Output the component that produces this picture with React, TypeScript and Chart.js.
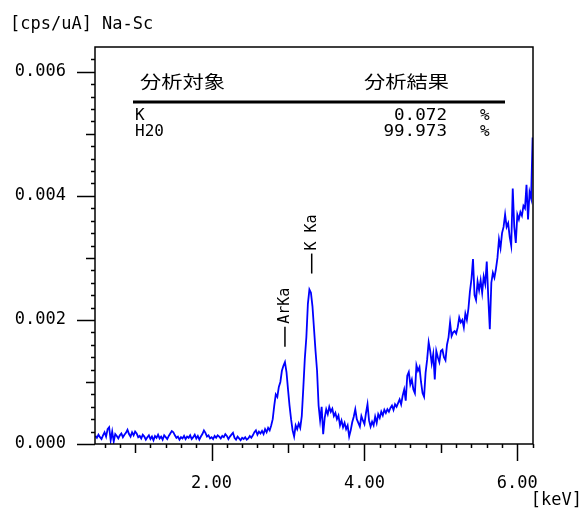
import { useEffect, useRef } from "react";
import { Chart, registerables } from "chart.js";

Chart.register(...registerables);

const TITLE = "[cps/uA] Na-Sc";
const X_UNIT = "[keV]";

const ENERGY_KEV = [
  0.48,0.5,0.52,0.54,0.56,0.58,0.6,0.62,0.64,0.66,
  0.68,0.7,0.72,0.74,0.76,0.78,0.8,0.82,0.84,0.86,
  0.88,0.9,0.92,0.94,0.96,0.98,1,1.02,1.04,1.06,
  1.08,1.1,1.12,1.14,1.16,1.18,1.2,1.22,1.24,1.26,
  1.28,1.3,1.32,1.34,1.36,1.38,1.4,1.42,1.44,1.46,
  1.48,1.5,1.52,1.54,1.56,1.58,1.6,1.62,1.64,1.66,
  1.68,1.7,1.72,1.74,1.76,1.78,1.8,1.82,1.84,1.86,
  1.88,1.9,1.92,1.94,1.96,1.98,2,2.02,2.04,2.06,
  2.08,2.1,2.12,2.14,2.16,2.18,2.2,2.22,2.24,2.26,
  2.28,2.3,2.32,2.34,2.36,2.38,2.4,2.42,2.44,2.46,
  2.48,2.5,2.52,2.54,2.56,2.58,2.6,2.62,2.64,2.66,
  2.68,2.7,2.72,2.74,2.76,2.78,2.8,2.82,2.84,2.86,
  2.88,2.9,2.92,2.94,2.96,2.98,3,3.02,3.04,3.06,
  3.08,3.1,3.12,3.14,3.16,3.18,3.2,3.22,3.24,3.26,
  3.28,3.3,3.32,3.34,3.36,3.38,3.4,3.42,3.44,3.46,
  3.48,3.5,3.52,3.54,3.56,3.58,3.6,3.62,3.64,3.66,
  3.68,3.7,3.72,3.74,3.76,3.78,3.8,3.82,3.84,3.86,
  3.88,3.9,3.92,3.94,3.96,3.98,4,4.02,4.04,4.06,
  4.08,4.1,4.12,4.14,4.16,4.18,4.2,4.22,4.24,4.26,
  4.28,4.3,4.32,4.34,4.36,4.38,4.4,4.42,4.44,4.46,
  4.48,4.5,4.52,4.54,4.56,4.58,4.6,4.62,4.64,4.66,
  4.68,4.7,4.72,4.74,4.76,4.78,4.8,4.82,4.84,4.86,
  4.88,4.9,4.92,4.94,4.96,4.98,5,5.02,5.04,5.06,
  5.08,5.1,5.12,5.14,5.16,5.18,5.2,5.22,5.24,5.26,
  5.28,5.3,5.32,5.34,5.36,5.38,5.4,5.42,5.44,5.46,
  5.48,5.5,5.52,5.54,5.56,5.58,5.6,5.62,5.64,5.66,
  5.68,5.7,5.72,5.74,5.76,5.78,5.8,5.82,5.84,5.86,
  5.88,5.9,5.92,5.94,5.96,5.98,6,6.02,6.04,6.06,
  6.08,6.1,6.12,6.14,6.16,6.18,6.2,
];

const INTENSITY = [
  0.00013,0.00010,0.00015,0.00011,0.00008,0.00014,0.00019,0.00012,0.00024,0.00027,
  0.00006,0.00020,0.00004,0.00016,0.00013,0.00009,0.00014,0.00017,0.00011,0.00015,
  0.00018,0.00023,0.00016,0.00012,0.00019,0.00014,0.00020,0.00017,0.00011,0.00013,
  0.00009,0.00015,0.00012,0.00007,0.00011,0.00014,0.00008,0.00012,0.00006,0.00013,
  0.00010,0.00015,0.00009,0.00012,0.00007,0.00014,0.00011,0.00008,0.00013,0.00017,
  0.00021,0.00019,0.00014,0.00010,0.00012,0.00007,0.00011,0.00009,0.00013,0.00008,
  0.00012,0.00010,0.00014,0.00008,0.00011,0.00015,0.00009,0.00013,0.00007,0.00012,
  0.00016,0.00022,0.00018,0.00012,0.00014,0.00009,0.00011,0.00008,0.00013,0.00010,
  0.00014,0.00012,0.00009,0.00013,0.00011,0.00016,0.00013,0.00008,0.00012,0.00015,
  0.00018,0.00010,0.00007,0.00012,0.00009,0.00006,0.00010,0.00008,0.00011,0.00007,
  0.00009,0.00013,0.00010,0.00014,0.00019,0.00022,0.00015,0.00020,0.00017,0.00021,
  0.00016,0.00024,0.00019,0.00026,0.00022,0.00030,0.00040,0.00062,0.00080,0.00076,
  0.00092,0.00100,0.00118,0.00126,0.00132,0.00116,0.00088,0.00062,0.00040,0.00022,
  0.00012,0.00030,0.00024,0.00033,0.00026,0.00045,0.00090,0.00138,0.00172,0.00226,
  0.00249,0.00244,0.00222,0.00186,0.00150,0.00118,0.00062,0.00038,0.00060,0.00016,
  0.00042,0.00056,0.00048,0.00060,0.00052,0.00057,0.00045,0.00050,0.00040,0.00046,
  0.00030,0.00038,0.00027,0.00034,0.00024,0.00030,0.00012,0.00022,0.00035,0.00044,
  0.00056,0.00040,0.00034,0.00028,0.00045,0.00038,0.00032,0.00050,0.00064,0.00038,
  0.00028,0.00036,0.00030,0.00044,0.00034,0.00048,0.00042,0.00052,0.00046,0.00055,
  0.00050,0.00056,0.00052,0.00058,0.00062,0.00055,0.00064,0.00060,0.00066,0.00072,
  0.00064,0.00078,0.00088,0.00070,0.00110,0.00116,0.00096,0.00104,0.00088,0.00082,
  0.00127,0.00118,0.00124,0.00100,0.00082,0.00076,0.00115,0.00136,0.00164,0.00150,
  0.00130,0.00145,0.00104,0.00150,0.00140,0.00132,0.00150,0.00152,0.00140,0.00135,
  0.00160,0.00172,0.00196,0.00174,0.00180,0.00182,0.00178,0.00188,0.00204,0.00196,
  0.00200,0.00188,0.00210,0.00200,0.00218,0.00246,0.00266,0.00298,0.00240,0.00232,
  0.00262,0.00248,0.00264,0.00244,0.00270,0.00258,0.00294,0.00236,0.00185,0.00260,
  0.00276,0.00268,0.00282,0.00300,0.00330,0.00316,0.00340,0.00350,0.00370,0.00350,
  0.00356,0.00334,0.00320,0.00412,0.00350,0.00324,0.00370,0.00362,0.00374,0.00368,
  0.00384,0.00380,0.00418,0.00362,0.00406,0.00396,0.00494,
];

const X_LABEL_TICKS = [2, 4, 6];
const X_MID_TICKS = [1, 3, 5];
const X_MINOR_TICKS = [
  0.6,0.8,1.2,1.4,1.6,1.8,2.2,2.4,2.6,2.8,3.2,3.4,3.6,3.8,
  4.2,4.4,4.6,4.8,5.2,5.4,5.6,5.8,6.2,
];
const Y_LABEL_TICKS = [0, 0.002, 0.004, 0.006];
const Y_MID_TICKS = [0.001, 0.003, 0.005];
const Y_MINOR_TICKS = [
  0.0002,0.0004,0.0006,0.0008,0.0012,0.0014,0.0016,0.0018,
  0.0022,0.0024,0.0026,0.0028,0.0032,0.0034,0.0036,0.0038,
  0.0042,0.0044,0.0046,0.0048,0.0052,0.0054,0.0056,0.0058,0.0062,
];

const PEAK_NAMES = ["ArKa", "K Ka"];
const PEAK_ENERGIES = [2.96, 3.31];
const PEAK_TOPS = [0.00131, 0.00249];

const TABLE_HEADERS = ["分析対象", "分析結果"];
const TABLE_ELEMENTS = ["K", "H20"];
const TABLE_RESULTS = ["0.072", "99.973"];
const TABLE_UNIT = "%";

const MONO = "'DejaVu Sans Mono', monospace";
const CJK = "'Noto Sans CJK JP', sans-serif";

function drawText(
  ctx: CanvasRenderingContext2D,
  text: string,
  x: number,
  y: number,
  font: string,
  align: CanvasTextAlign,
  sx = 1
) {
  ctx.save();
  ctx.font = font;
  ctx.fillStyle = "#000";
  ctx.textBaseline = "middle";
  ctx.textAlign = align;
  ctx.translate(x, y);
  ctx.scale(sx, 1);
  ctx.fillText(text, 0, 0);
  ctx.restore();
}

const decorations = {
  id: "decorations",
  afterDraw(chart: any) {
    const { ctx, chartArea: a, scales } = chart;
    const xs = scales.x;
    const ys = scales.y;
    ctx.save();
    ctx.strokeStyle = "#000";

    // frame
    ctx.lineWidth = 1.5;
    ctx.strokeRect(a.left, a.top, a.right - a.left, a.bottom - a.top);

    // ticks (outward)
    const xt = (v: number, len: number) => {
      const px = Math.round(xs.getPixelForValue(v)) + 0.5;
      ctx.beginPath();
      ctx.moveTo(px, a.bottom);
      ctx.lineTo(px, a.bottom + len);
      ctx.stroke();
    };
    const yt = (v: number, len: number) => {
      const py = Math.round(ys.getPixelForValue(v)) + 0.5;
      ctx.beginPath();
      ctx.moveTo(a.left, py);
      ctx.lineTo(a.left - len, py);
      ctx.stroke();
    };
    ctx.lineWidth = 1.5;
    X_MINOR_TICKS.forEach((v) => xt(v, 4));
    X_MID_TICKS.forEach((v) => xt(v, 9));
    X_LABEL_TICKS.forEach((v) => xt(v, 17));
    Y_MINOR_TICKS.forEach((v) => yt(v, 4));
    Y_MID_TICKS.forEach((v) => yt(v, 9));
    Y_LABEL_TICKS.forEach((v) => yt(v, 18));

    // peak labels
    PEAK_NAMES.forEach((name, i) => {
      const px = xs.getPixelForValue(PEAK_ENERGIES[i]);
      const py = ys.getPixelForValue(PEAK_TOPS[i]) - 16;
      ctx.save();
      ctx.translate(px, py);
      ctx.rotate(-Math.PI / 2);
      ctx.lineWidth = 1.5;
      ctx.beginPath();
      ctx.moveTo(0, 0);
      ctx.lineTo(20, 0);
      ctx.stroke();
      ctx.font = `15px ${MONO}`;
      ctx.fillStyle = "#000";
      ctx.textBaseline = "middle";
      ctx.textAlign = "left";
      ctx.fillText(name, 23, 0);
      ctx.restore();
    });

    // title and unit
    drawText(ctx, TITLE, 10, 25, `17px ${MONO}`, "left");
    drawText(ctx, X_UNIT, 582, 501, `17px ${MONO}`, "right");

    // result table
    drawText(ctx, TABLE_HEADERS[0], 140, 82, `17px ${CJK}`, "left", 1.25);
    drawText(ctx, TABLE_HEADERS[1], 449, 82, `17px ${CJK}`, "right", 1.25);
    ctx.lineWidth = 3;
    ctx.beginPath();
    ctx.moveTo(133, 102);
    ctx.lineTo(505, 102);
    ctx.stroke();
    TABLE_ELEMENTS.forEach((el, i) => {
      const ry = 116 + i * 16;
      drawText(ctx, el, 135, ry, `16px ${MONO}`, "left");
      drawText(ctx, TABLE_RESULTS[i], 447, ry, `16px ${MONO}`, "right", 1.1);
      drawText(ctx, TABLE_UNIT, 480, ry, `16px ${MONO}`, "left");
    });

    ctx.restore();
  },
};

export default function App() {
  const ref = useRef<HTMLCanvasElement | null>(null);

  useEffect(() => {
    if (!ref.current) return;
    const chart = new Chart(ref.current, {
      type: "line",
      data: {
        datasets: [
          {
            data: ENERGY_KEV.map((e, i) => ({ x: e, y: INTENSITY[i] })),
            borderColor: "#0000ff",
            borderWidth: 1.8,
            pointRadius: 0,
            tension: 0,
            fill: false,
          },
        ],
      },
      options: {
        animation: false,
        responsive: false,
        maintainAspectRatio: false,
        layout: { padding: { left: 0, right: 54, top: 47, bottom: 0 } },
        plugins: {
          legend: { display: false },
          tooltip: { enabled: false },
          title: { display: false },
        },
        scales: {
          x: {
            type: "linear",
            min: 0.475,
            max: 6.205,
            afterBuildTicks: (s: any) => {
              s.ticks = X_LABEL_TICKS.map((v) => ({ value: v }));
            },
            afterFit: (s: any) => {
              s.height = 66;
            },
            grid: { display: false, drawTicks: false },
            border: { display: false },
            ticks: {
              autoSkip: false,
              maxRotation: 0,
              padding: 29,
              color: "#000",
              font: { family: "'DejaVu Sans Mono', monospace", size: 17 },
              callback: (v: any) => Number(v).toFixed(2),
            },
          },
          y: {
            type: "linear",
            min: 0,
            max: 0.0064,
            afterBuildTicks: (s: any) => {
              s.ticks = Y_LABEL_TICKS.map((v) => ({ value: v }));
            },
            afterFit: (s: any) => {
              s.width = 95;
            },
            grid: { display: false, drawTicks: false },
            border: { display: false },
            ticks: {
              autoSkip: false,
              padding: 29,
              color: "#000",
              font: { family: "'DejaVu Sans Mono', monospace", size: 17 },
              callback: (v: any) => Number(v).toFixed(3),
            },
          },
        },
      },
      plugins: [decorations],
    });
    return () => chart.destroy();
  }, []);

  return (
    <div style={{ position: "absolute", left: 0, top: 0, width: 587, height: 510, background: "#fff" }}>
      <canvas ref={ref} width={587} height={510} style={{ display: "block" }} />
    </div>
  );
}
